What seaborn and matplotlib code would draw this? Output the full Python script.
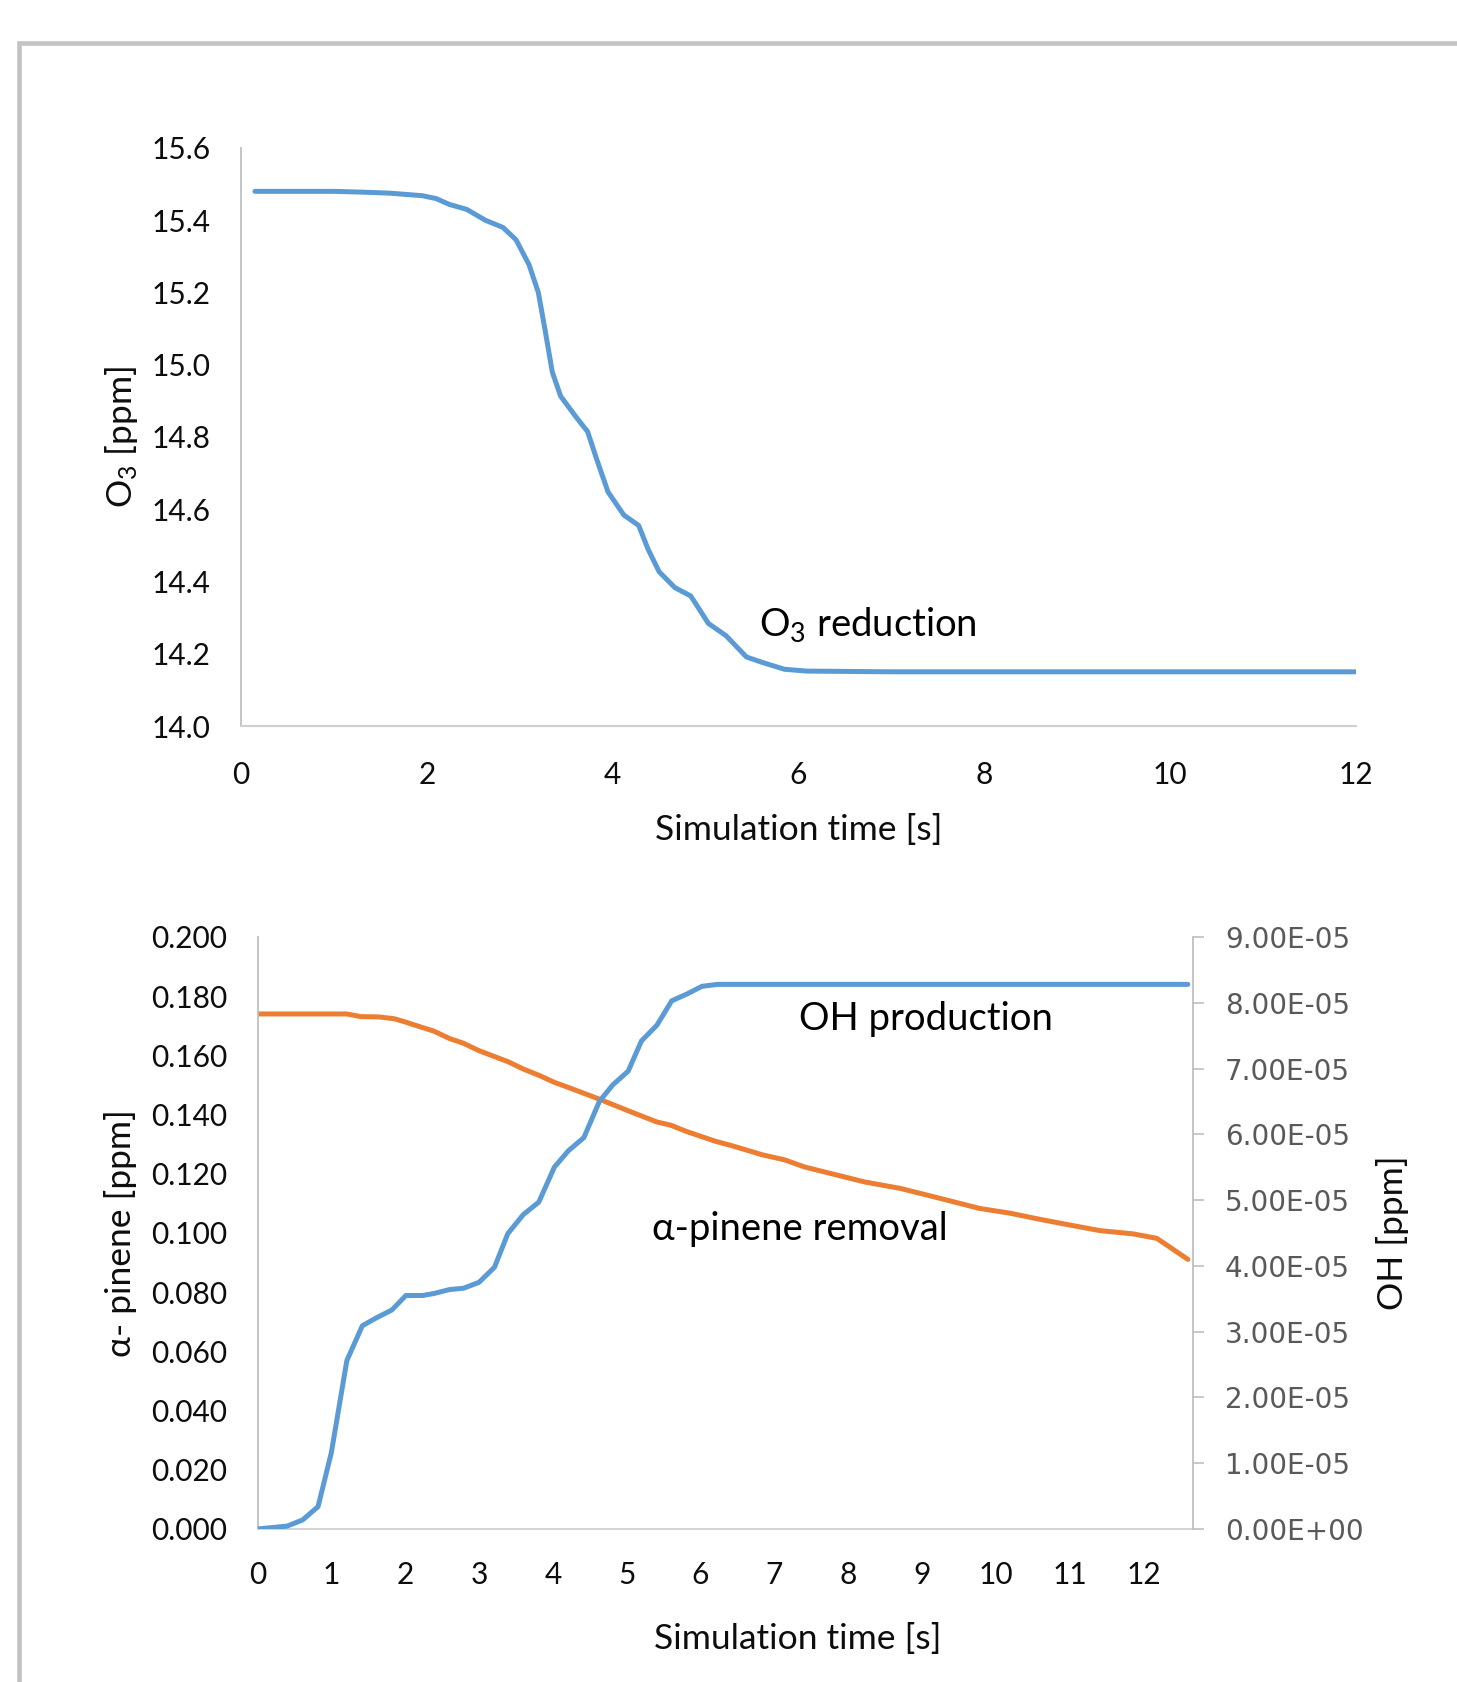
import matplotlib
matplotlib.use('Agg')
import matplotlib.pyplot as plt
import matplotlib.patches as mpatches
import matplotlib.ticker as mticker
import seaborn as sns
import pandas as pd

# O3 concentration over simulation time (top panel)
o3_time = [0.15, 0.6, 1.0, 1.28, 1.6, 1.95, 2.1, 2.24, 2.43, 2.63, 2.82, 2.96, 3.10, 3.20,
           3.27, 3.35, 3.44, 3.61, 3.73, 3.83, 3.95, 4.12, 4.28, 4.38, 4.50, 4.67, 4.84,
           5.03, 5.22, 5.44, 5.61, 5.85, 6.09, 7.0, 8.0, 9.0, 10.0, 11.0, 12.0]
o3_ppm = [15.48, 15.48, 15.48, 15.478, 15.475, 15.468, 15.46, 15.444, 15.43, 15.40, 15.38,
          15.346, 15.277, 15.20, 15.10, 14.98, 14.913, 14.854, 14.815, 14.737, 14.648,
          14.584, 14.555, 14.49, 14.427, 14.383, 14.36, 14.284, 14.25, 14.191, 14.176,
          14.157, 14.152, 14.15, 14.15, 14.15, 14.15, 14.15, 14.15]

# alpha-pinene removal (bottom panel, left axis)
pinene_time = [0.0, 0.6, 1.21, 1.40, 1.64, 1.85, 2.00, 2.21, 2.39, 2.60, 2.79, 3.00, 3.21,
               3.39, 3.60, 3.81, 4.02, 4.24, 4.60, 5.02, 5.41, 5.60, 5.81, 6.20, 6.41, 6.84,
               7.14, 7.41, 8.23, 8.70, 9.15, 9.78, 10.19, 10.60, 11.00, 11.41, 11.86, 12.18,
               12.60]
pinene_ppm = [0.174, 0.174, 0.174, 0.1731, 0.173, 0.1724, 0.1713, 0.1696, 0.1682, 0.1657,
              0.1641, 0.1616, 0.1596, 0.1579, 0.1554, 0.1533, 0.1509, 0.1489, 0.1455, 0.1413,
              0.1375, 0.1364, 0.1343, 0.131, 0.1296, 0.1264, 0.1247, 0.1223, 0.1172, 0.1151,
              0.1123, 0.1083, 0.1067, 0.1046, 0.1027, 0.1008, 0.0997, 0.0982, 0.0911]

# OH production (bottom panel, right axis), in units of 1e-5 ppm
oh_time = [0.0, 0.40, 0.61, 0.82, 1.00, 1.21, 1.42, 1.61, 1.82, 2.01, 2.24, 2.39, 2.60, 2.79,
           3.00, 3.21, 3.39, 3.60, 3.81, 4.02, 4.21, 4.42, 4.63, 4.81, 5.02, 5.20, 5.41, 5.61,
           5.81, 6.02, 6.23, 12.60]
oh_e5 = [0.0, 0.044, 0.137, 0.34, 1.16, 2.56, 3.09, 3.21, 3.33, 3.55, 3.55, 3.58, 3.64, 3.66,
         3.75, 3.98, 4.49, 4.78, 4.97, 5.50, 5.75, 5.95, 6.50, 6.75, 6.96, 7.42, 7.66, 8.03,
         8.13, 8.25, 8.28, 8.28]

df_o3 = pd.DataFrame({'t': o3_time, 'o3': o3_ppm})
df_pin = pd.DataFrame({'t': pinene_time, 'pinene': pinene_ppm})
df_oh = pd.DataFrame({'t': oh_time, 'oh': [v * 1e-5 for v in oh_e5]})

sns.set_theme(style='white')
plt.rcParams['font.family'] = ['Lato', 'DejaVu Sans']
plt.rcParams['mathtext.default'] = 'regular'

BLUE = '#5B9BD5'
ORANGE = '#ED7D31'
AXIS_GRAY = '#BFBFBF'
TXT = '#0d0d0d'
LW = 3.6
LABEL_FS = 25.5
NOTE_FS = 27.5

fig = plt.figure(figsize=(14.57, 16.82), dpi=100)

# gray frame (only top and left edges are visible in the crop)
fig.add_artist(mpatches.Rectangle((19 / 1457, -0.5), 2.0, 0.5 + (1 - 42.5 / 1682),
                                  transform=fig.transFigure, fill=False,
                                  edgecolor='#C3C3C3', linewidth=3.3))

# ---- top panel ----
ax1 = fig.add_axes([241 / 1457, 1 - 726 / 1682, (1356 - 241) / 1457, (726 - 148) / 1682])
sns.lineplot(data=df_o3, x='t', y='o3', ax=ax1, color=BLUE, linewidth=LW)
ax1.set_xlim(0, 12)
ax1.set_ylim(14.0, 15.6)
ax1.set_xticks(range(0, 13, 2))
ax1.yaxis.set_major_locator(mticker.MultipleLocator(0.2))
ax1.yaxis.set_major_formatter(mticker.FormatStrFormatter('%.1f'))
ax1.set_xlabel('Simulation time [s]', fontsize=LABEL_FS, color=TXT)
ax1.set_ylabel('O$_3$ [ppm]', fontsize=LABEL_FS, color=TXT)
ax1.xaxis.set_label_coords(0.5, -0.153)
ax1.yaxis.set_label_coords(-0.091, 0.5)
ax1.tick_params(axis='both', length=0, labelsize=21.5, labelcolor=TXT)
ax1.tick_params(axis='x', pad=25)
ax1.tick_params(axis='y', pad=22)
for s in ['top', 'right']:
    ax1.spines[s].set_visible(False)
ax1.spines['left'].set_color(AXIS_GRAY)
ax1.spines['bottom'].set_color('#D0D0D0')
ax1.spines['left'].set_linewidth(1.3)
ax1.spines['bottom'].set_linewidth(1.5)
ax1.text(5.58, 14.282, 'O$_3$ reduction', fontsize=NOTE_FS, color='black', va='center', ha='left')

# ---- bottom panel ----
ax2 = fig.add_axes([257.5 / 1457, 1 - 1529 / 1682, (1193 - 257.5) / 1457, (1529 - 937) / 1682])
ax3 = ax2.twinx()
sns.lineplot(data=df_pin, x='t', y='pinene', ax=ax2, color=ORANGE, linewidth=LW)
sns.lineplot(data=df_oh, x='t', y='oh', ax=ax3, color=BLUE, linewidth=LW)
ax2.set_xlim(0, 12.67)
ax2.set_ylim(0, 0.2)
ax3.set_ylim(0, 9e-5)
ax2.set_xticks(range(0, 13))
ax2.yaxis.set_major_locator(mticker.MultipleLocator(0.02))
ax2.yaxis.set_major_formatter(mticker.FormatStrFormatter('%.3f'))
ax3.yaxis.set_major_locator(mticker.MultipleLocator(1e-5))
ax3.yaxis.set_major_formatter(mticker.FuncFormatter(lambda v, p: '{:.2E}'.format(v)))
ax2.set_xlabel('Simulation time [s]', fontsize=LABEL_FS, color=TXT)
ax2.set_ylabel('α- pinene [ppm]', fontsize=LABEL_FS, color=TXT)
ax3.set_ylabel('OH [ppm]', fontsize=LABEL_FS, color=TXT, rotation=90)
ax2.xaxis.set_label_coords(0.577, -0.158)
ax2.yaxis.set_label_coords(-0.129, 0.5)
ax3.yaxis.set_label_coords(1.196, 0.5)
ax2.tick_params(axis='both', length=0, labelsize=21.5, labelcolor=TXT)
ax2.tick_params(axis='x', pad=23)
ax2.tick_params(axis='y', pad=22)
ax3.tick_params(axis='y', length=8, width=1.2, color=AXIS_GRAY, labelsize=20,
                labelcolor='#595959', pad=15, direction='out')
for lab in ax3.get_yticklabels():
    lab.set_fontfamily('DejaVu Sans')
for a in (ax2, ax3):
    a.spines['top'].set_visible(False)
ax2.spines['right'].set_visible(False)
ax3.spines['left'].set_visible(False)
ax3.spines['bottom'].set_visible(False)
ax2.spines['left'].set_color(AXIS_GRAY)
ax2.spines['bottom'].set_color('#D0D0D0')
ax3.spines['right'].set_color(AXIS_GRAY)
for s in ['left', 'bottom']:
    ax2.spines[s].set_linewidth(1.3)
ax3.spines['right'].set_linewidth(1.3)
ax2.text(7.33, 0.1723, 'OH production', fontsize=NOTE_FS, color='black', va='center', ha='left')
ax2.text(5.34, 0.1015, 'α-pinene removal', fontsize=NOTE_FS, color='black', va='center', ha='left')

fig.savefig('out.png', dpi=100, facecolor='white')
